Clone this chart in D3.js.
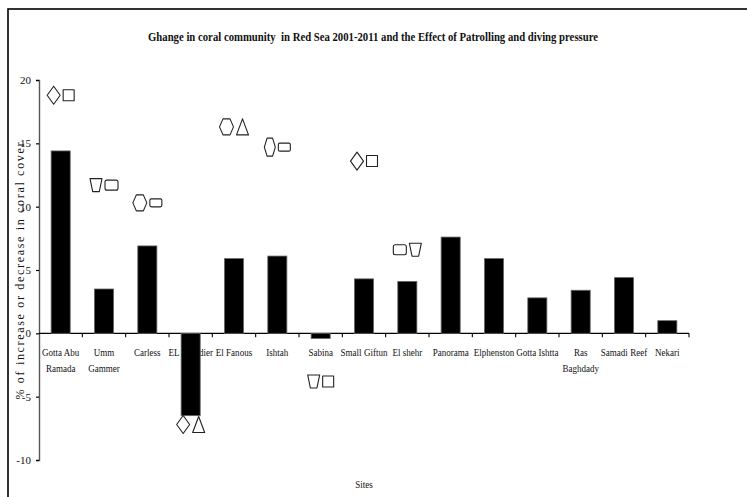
<!DOCTYPE html>
<html>
<head>
<meta charset="utf-8">
<script src="https://cdn.jsdelivr.net/npm/d3@7"></script>
<style>
  html, body { margin: 0; padding: 0; background: #fff; }
  svg { display: block; }
  text { font-family: "Liberation Serif", "Times New Roman", serif; fill: #111; }
</style>
</head>
<body>
<svg id="chart" width="747" height="497"></svg>
<script>
// Survey sites along the Red Sea coast
const sites = ["Gotta Abu Ramada", "Umm Gammer", "Carless", "EL Fanadier", "El Fanous", "Ishtah",
  "Sabina", "Small Giftun", "El shehr", "Panorama", "Elphenston", "Gotta Ishtta",
  "Ras Baghdady", "Samadi Reef", "Nekari"];
// Axis label lines for each site
const siteLabels = [["Gotta Abu", "Ramada"], ["Umm", "Gammer"], ["Carless"], ["EL Fanadier"], ["El Fanous"],
  ["Ishtah"], ["Sabina"], ["Small Giftun"], ["El shehr"], ["Panorama"], ["Elphenston"],
  ["Gotta Ishtta"], ["Ras", "Baghdady"], ["Samadi Reef"], ["Nekari"]];
// % change in coral cover 2001-2011
const coverChange = [14.4, 3.5, 6.9, -6.5, 5.9, 6.1, -0.4, 4.3, 4.1, 7.6, 5.9, 2.8, 3.4, 4.4, 1.0];

// Patrolling / diving-pressure symbols placed above selected sites
const markerSites = ["Gotta Abu Ramada", "Umm Gammer", "Carless", "EL Fanadier", "El Fanous",
  "Ishtah", "Sabina", "Small Giftun", "El shehr"];
const markerValues = [18.8, 11.7, 10.3, -7.2, 16.3, 14.7, -3.8, 13.6, 6.6];
const patrolSymbols = ["diamond", "trapezoid", "hexagon", "diamond", "hexagon", "hexTall", "trapezoid", "diamond", "roundRect"];
const divingSymbols = ["square", "roundRect", "flatRect", "triangle", "triangle", "flatRect", "square", "square", "trapezoid"];

const yTicks = [-10, -5, 0, 5, 10, 15, 20];

const svg = d3.select("#chart");

// outer chart frame
svg.append("rect")
  .attr("x", 8).attr("y", 9).attr("width", 900).attr("height", 700)
  .attr("fill", "none").attr("stroke", "#000").attr("stroke-width", 1.6);

const x = d3.scaleBand().domain(sites).range([39, 689]).paddingInner(0.56).paddingOuter(0.28);
const y = d3.scaleLinear().domain([-10, 20]).range([460, 80]);

// title
svg.append("text")
  .attr("x", 373).attr("y", 41)
  .attr("text-anchor", "middle")
  .attr("font-size", 12).attr("font-weight", "bold")
  .style("white-space", "pre")
  .attr("textLength", 450).attr("lengthAdjust", "spacingAndGlyphs")
  .text("Ghange in coral community  in Red Sea 2001-2011 and the Effect of Patrolling and diving pressure");

// y axis
const yAxis = svg.append("g")
  .attr("transform", "translate(39,0)")
  .call(d3.axisLeft(y).tickValues(yTicks).tickSize(3).tickPadding(5).tickFormat(d => String(d)));
yAxis.select(".domain").attr("stroke", "#555").attr("stroke-width", 1.4);
yAxis.selectAll(".tick line").attr("stroke", "#000").attr("stroke-width", 1.2);
yAxis.selectAll(".tick text")
  .attr("font-family", "Liberation Serif, serif").attr("font-size", 11).attr("fill", "#222");

// y axis title
svg.append("text")
  .attr("transform", "translate(24,271) rotate(-90)")
  .attr("text-anchor", "middle")
  .attr("font-size", 12).attr("fill", "#222")
  .attr("textLength", 257).attr("lengthAdjust", "spacing")
  .text("% of increase or decrease in coral cover");

// x axis line and category boundary ticks
const x0 = y(0);
svg.append("line")
  .attr("x1", 39).attr("x2", 689).attr("y1", x0).attr("y2", x0)
  .attr("stroke", "#000").attr("stroke-width", 1.3);
const boundaries = sites.map(s => x(s) + x.bandwidth() / 2 + x.step() / 2);
svg.append("g").selectAll("line").data(boundaries).join("line")
  .attr("x1", d => d).attr("x2", d => d)
  .attr("y1", x0).attr("y2", x0 + 4)
  .attr("stroke", "#000").attr("stroke-width", 1.1);

// site labels
const labels = svg.append("g").selectAll("g").data(sites).join("g")
  .attr("transform", d => `translate(${x(d) + x.bandwidth() / 2},356) scale(0.82,1)`);
labels.each(function (d, i) {
  const g = d3.select(this);
  siteLabels[i].forEach((line, k) => {
    g.append("text")
      .attr("y", k * 16)
      .attr("text-anchor", "middle")
      .attr("font-size", 11).attr("fill", "#222")
      .text(line);
  });
});

// x axis title
svg.append("text")
  .attr("transform", `translate(${(39 + 689) / 2},488) scale(0.82,1)`)
  .attr("text-anchor", "middle")
  .attr("font-size", 11).attr("fill", "#222")
  .text("Sites");

// bars
svg.append("g").selectAll("rect").data(coverChange).join("rect")
  .attr("x", (d, i) => x(sites[i]))
  .attr("width", x.bandwidth())
  .attr("y", d => Math.min(y(d), y(0)))
  .attr("height", d => Math.abs(y(d) - y(0)))
  .attr("fill", "#000")
  .attr("stroke", "#666").attr("stroke-width", 0.8);

// symbol geometry
const symbolSize = {
  diamond: [13, 18], square: [11, 11], trapezoid: [12, 13], roundRect: [13, 10],
  hexagon: [14, 16], hexTall: [11, 18], flatRect: [12, 8], triangle: [12, 16]
};
function roundedRect(cx, cy, w, h, r) {
  const p = d3.path();
  const l = cx - w / 2, t = cy - h / 2, rr = l + w, b = t + h;
  p.moveTo(l + r, t);
  p.lineTo(rr - r, t); p.quadraticCurveTo(rr, t, rr, t + r);
  p.lineTo(rr, b - r); p.quadraticCurveTo(rr, b, rr - r, b);
  p.lineTo(l + r, b); p.quadraticCurveTo(l, b, l, b - r);
  p.lineTo(l, t + r); p.quadraticCurveTo(l, t, l + r, t);
  p.closePath();
  return p.toString();
}
function symbolPath(type, cx, cy) {
  const [w, h] = symbolSize[type];
  const hw = w / 2, hh = h / 2;
  switch (type) {
    case "diamond":
      return `M${cx},${cy - hh}L${cx + hw},${cy}L${cx},${cy + hh}L${cx - hw},${cy}Z`;
    case "square":
      return `M${cx - hw},${cy - hh}H${cx + hw}V${cy + hh}H${cx - hw}Z`;
    case "trapezoid":
      return `M${cx - hw},${cy - hh}H${cx + hw}L${cx + hw * 0.55},${cy + hh}H${cx - hw * 0.55}Z`;
    case "roundRect":
      return roundedRect(cx, cy, w, h, 2);
    case "flatRect":
      return roundedRect(cx, cy, w, h, 1.5);
    case "hexagon":
    case "hexTall":
      return `M${cx - hw},${cy}L${cx - hw * 0.5},${cy - hh}H${cx + hw * 0.5}L${cx + hw},${cy}L${cx + hw * 0.5},${cy + hh}H${cx - hw * 0.5}Z`;
    case "triangle":
      return `M${cx},${cy - hh}L${cx + hw},${cy + hh}H${cx - hw}Z`;
  }
}

// patrolling / diving symbol pairs
const gap = 3;
const markers = svg.append("g")
  .attr("fill", "none").attr("stroke", "#222").attr("stroke-width", 1.1)
  .attr("stroke-linejoin", "round");
markerSites.forEach((s, i) => {
  const cx = x(s) + x.bandwidth() / 2;
  const cy = y(markerValues[i]);
  const wl = symbolSize[patrolSymbols[i]][0];
  const wr = symbolSize[divingSymbols[i]][0];
  const total = wl + gap + wr;
  const left = cx - total / 2;
  markers.append("path").attr("d", symbolPath(patrolSymbols[i], left + wl / 2, cy));
  markers.append("path").attr("d", symbolPath(divingSymbols[i], left + wl + gap + wr / 2, cy));
});
</script>
</body>
</html>
